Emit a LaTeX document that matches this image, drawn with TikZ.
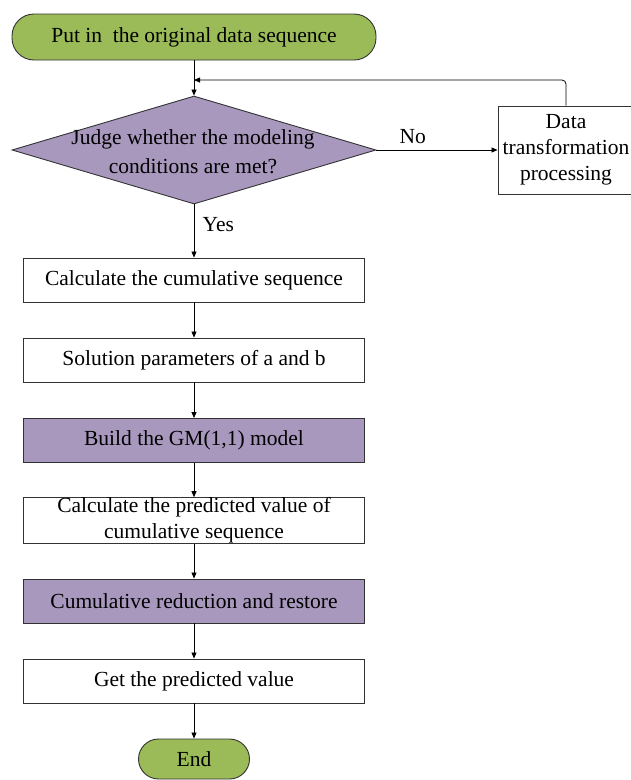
\documentclass[tikz,border=0pt]{standalone}
\usepackage{fontspec}
\setmainfont{Liberation Serif}
\usetikzlibrary{arrows.meta,shapes.geometric}
\definecolor{tgreen}{HTML}{9BBB59}
\definecolor{tpurple}{HTML}{A898BE}
\definecolor{edge}{HTML}{333333}
\begin{document}
\begin{tikzpicture}[x=1pt,y=-1pt,
  every node/.style={font=\fontsize{21.5}{26}\selectfont},
  box/.style={draw=edge,line width=0.9pt,minimum width=341pt,minimum height=44pt,inner sep=0pt,align=center},
  term/.style={draw=edge,line width=0.9pt,fill=tgreen,rounded corners=22pt,inner sep=0pt},
  conn/.style={draw=black,line width=0.8pt,-{Triangle[length=6pt,width=5pt]}}]
\useasboundingbox (0,0) rectangle (631,780);
\clip (0,0) rectangle (631,780);
\node[term,minimum width=364pt,minimum height=46pt] (start) at (194,37) {Put in\ \ the original data sequence};
\node[draw=edge,line width=0.9pt,fill=tpurple,diamond,aspect=3.37,minimum width=364pt,minimum height=108pt,inner sep=0pt] (judge) at (194,150) {};
\node[align=center,font=\fontsize{21.5}{29}\selectfont] (jt) at (193,152) {Judge whether the modeling\\conditions are met?};
\node[box,minimum width=136pt,minimum height=88pt] (data) at (566,150) {Data\\transformation\\processing};
\node[box] (b1) at (194,280) {Calculate the cumulative sequence};
\node[box] (b2) at (194,360) {Solution parameters of a and b};
\node[box,fill=tpurple] (b3) at (194,440.5) {Build the GM(1,1) model};
\node[box] (b4) at (194,520.5) {Calculate the predicted value of\\cumulative sequence};
\node[box,fill=tpurple] (b5) at (194,601) {Cumulative reduction and restore};
\node[box] (b6) at (194,681) {Get the predicted value};
\node[term,minimum width=111pt,minimum height=40pt,rounded corners=20pt] (end) at (194,759) {End};
\coordinate (loop) at (194,80);
\draw[conn] (start) -- (judge.north);
\draw[conn,rounded corners=4pt] (data.north) |- (loop);
\draw[conn] (judge.east) -- node[above=3pt,pos=0.3] (no) {No} (data.west);
\draw[conn] (judge.south) -- node[right=5pt,pos=0.38] (yes) {Yes} (b1.north);
\draw[conn] (b1) -- (b2);
\draw[conn] (b2) -- (b3);
\draw[conn] (b3) -- (b4);
\draw[conn] (b4) -- (b5);
\draw[conn] (b5) -- (b6);
\draw[conn] (b6) -- (end);
\end{tikzpicture}
\end{document}
